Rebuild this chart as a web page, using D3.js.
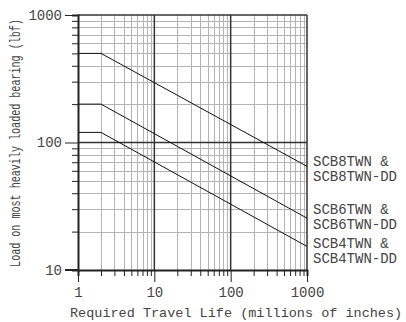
<!DOCTYPE html>
<html>
<head>
<meta charset="utf-8">
<script src="https://cdn.jsdelivr.net/npm/d3@7"></script>
<style>
  body { margin: 0; background: #fff; }
  text { font-family: "Liberation Mono", "Courier New", monospace; fill: #444; }
</style>
</head>
<body>
<script>
// bearing load vs. required travel life (log-log)
var lifeVals = [1, 2, 1000]
var loadSCB8 = [500, 500, 65]
var loadSCB6 = [200, 200, 25.5]
var loadSCB4 = [120, 120, 15.3]
var seriesNames = [['SCB8TWN &', 'SCB8TWN-DD'], ['SCB6TWN &', 'SCB6TWN-DD'], ['SCB4TWN &', 'SCB4TWN-DD']]
var labelLoads = [65.8, 27.5, 15]
var xTickLabels = [1, 10, 100, 1000]
var yTickLabels = [10, 100, 1000]
var xLabel = 'Required Travel Life (millions of inches)'
var yLabel = 'Load on most heavily loaded bearing (lbf)'

var W = 406, H = 322
var x = d3.scaleLog().domain([1, 1000]).range([78, 307])
var y = d3.scaleLog().domain([10, 1000]).range([270, 15])

var svg = d3.select('body').append('svg')
  .attr('width', W)
  .attr('height', H)

// every 1..9 step per decade
function decadeSteps (lo, hi) {
  var out = []
  for (var d = lo; d < hi; d *= 10) {
    for (var k = 1; k < 10; k++) out.push(d * k)
  }
  out.push(hi)
  return out
}
var xAll = decadeSteps(1, 1000)
var yAll = decadeSteps(10, 1000)
var isMajor = v => Math.abs(Math.log10(v) - Math.round(Math.log10(v))) < 1e-9

// minor grid
var grid = svg.append('g')
grid.selectAll('line.vx').data(xAll.filter(v => !isMajor(v)))
  .enter().append('line')
  .attr('x1', d => Math.round(x(d)) + 0.5).attr('x2', d => Math.round(x(d)) + 0.5)
  .attr('y1', y(1000)).attr('y2', y(10))
  .style('stroke', '#b4b4b4').style('stroke-width', 1)
grid.selectAll('line.hy').data(yAll.filter(v => !isMajor(v)))
  .enter().append('line')
  .attr('y1', d => Math.round(y(d)) + 0.5).attr('y2', d => Math.round(y(d)) + 0.5)
  .attr('x1', x(1)).attr('x2', x(1000))
  .style('stroke', '#b4b4b4').style('stroke-width', 1)

// major grid
grid.selectAll('line.mx').data(xAll.filter(v => isMajor(v) && v > 1))
  .enter().append('line')
  .attr('x1', d => x(d)).attr('x2', d => x(d))
  .attr('y1', y(1000)).attr('y2', y(10))
  .style('stroke', '#333').style('stroke-width', 1.5)
grid.selectAll('line.my').data(yAll.filter(v => isMajor(v) && v > 10))
  .enter().append('line')
  .attr('y1', d => y(d)).attr('y2', d => y(d))
  .attr('x1', x(1)).attr('x2', x(1000))
  .style('stroke', '#333').style('stroke-width', 1.5)

// axes
var xAxis = svg.append('g')
  .attr('transform', `translate(0, ${y(10)})`)
  .call(d3.axisBottom(x).tickValues(xAll).tickSizeOuter(0).tickSize(6).tickPadding(8)
    .tickFormat(d => xTickLabels.indexOf(d) >= 0 ? d : ''))
var yAxis = svg.append('g')
  .attr('transform', `translate(${x(1)}, 0)`)
  .call(d3.axisLeft(y).tickValues(yAll).tickSizeOuter(0).tickSize(6).tickPadding(3)
    .tickFormat(d => yTickLabels.indexOf(d) >= 0 ? d : ''))

;[xAxis, yAxis].forEach(function (ax) {
  ax.select('.domain').style('stroke', '#222').style('stroke-width', 2)
  ax.selectAll('.tick line').style('stroke', '#222')
  ax.selectAll('.tick text')
    .style('font-family', '"Liberation Mono", monospace')
    .style('font-size', '14px')
    .style('fill', '#444')
})
xAxis.selectAll('.tick').filter(d => isMajor(d)).select('line').attr('y2', 12)
xAxis.selectAll('.tick text').attr('y', 17)
yAxis.selectAll('.tick').filter(d => isMajor(d)).select('line').attr('x2', -13)
yAxis.selectAll('.tick').filter(d => isMajor(d)).select('text').attr('x', -16)
// extend the bottom axis to the 10 tick on the left
svg.append('line')
  .attr('x1', x(1) - 13).attr('x2', x(1))
  .attr('y1', y(10)).attr('y2', y(10))
  .style('stroke', '#222').style('stroke-width', 2)

// curves
var series = [loadSCB8, loadSCB6, loadSCB4]
var line = d3.line().x(d => x(d[0])).y(d => y(d[1]))
svg.selectAll('path.curve').data(series)
  .enter().append('path')
  .attr('class', 'curve')
  .attr('d', s => line(lifeVals.map((v, i) => [v, s[i]])))
  .style('fill', 'none')
  .style('stroke', '#111')
  .style('stroke-width', 1)

// series labels
seriesNames.forEach(function (names, i) {
  var t = svg.append('text')
    .attr('x', x(1000) + 6)
    .attr('y', y(labelLoads[i]))
    .style('font-size', '14px')
  names.forEach(function (n, j) {
    t.append('tspan').attr('x', x(1000) + 6).attr('dy', j === 0 ? 0 : 15.5).text(n)
  })
})

// axis titles
svg.append('text')
  .attr('x', 70).attr('y', 317)
  .style('font-size', '13.5px')
  .text(xLabel)

// y title squeezed horizontally like the original
svg.append('text')
  .attr('transform', 'translate(20, 143) rotate(-90) scale(0.72, 1)')
  .attr('text-anchor', 'middle')
  .style('font-size', '14px')
  .text(yLabel)
</script>
</body>
</html>
